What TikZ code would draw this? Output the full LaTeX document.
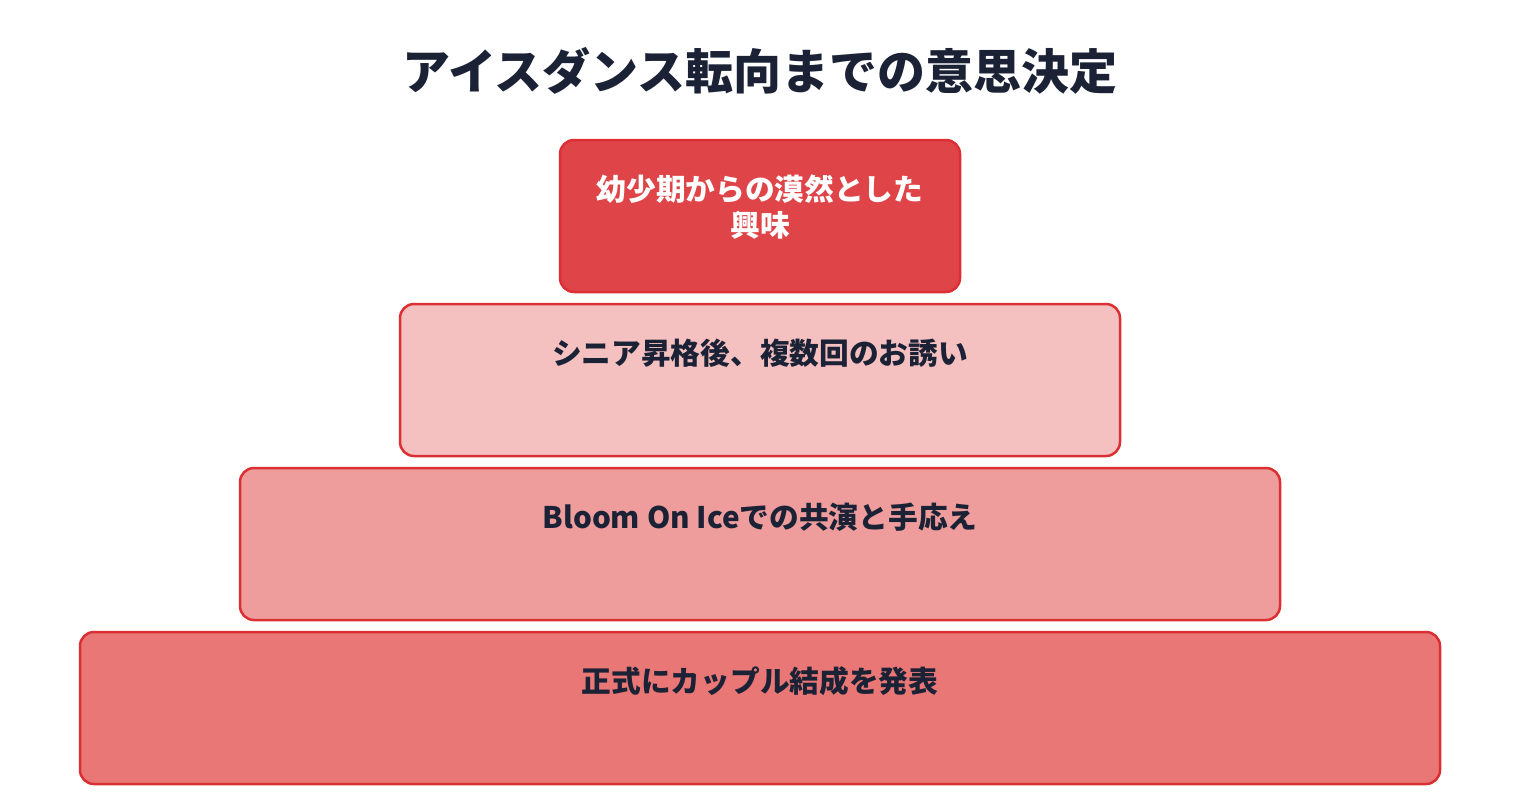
\documentclass[tikz,border=0pt]{standalone}
\usepackage{fontspec}
\setmainfont{Noto Sans CJK JP}
\usetikzlibrary{positioning}

\definecolor{edgered}{HTML}{DC2F33}
\definecolor{topfill}{HTML}{DF4548}
\definecolor{palefill}{HTML}{F4C0C0}
\definecolor{midfill}{HTML}{EE9D9C}
\definecolor{basefill}{HTML}{E87775}
\definecolor{inkdark}{HTML}{1C2236}

\tikzset{
	layerbox/.style={draw=edgered, line width=2.5pt, rounded corners=14pt, minimum height=152pt, inner sep=0pt},
	layertext/.style={font=\fontsize{29.7}{36}\selectfont\bfseries, text=inkdark, align=center, inner sep=0pt},
}

\begin{document}
\begin{tikzpicture}[x=1pt, y=-1pt]
		\useasboundingbox (0,0) rectangle (1520,796);
		
		\node[font=\fontsize{48}{56}\selectfont\bfseries, text=inkdark] (title) at (760,71) {アイスダンス転向までの意思決定};
		
		\node[layerbox, fill=topfill, minimum width=400pt] (interest) at (760,216) {};
		\node[layertext, text=white, below=36pt of interest.north] (interesttext) {幼少期からの漠然とした\\興味};
		
		\node[layerbox, fill=palefill, minimum width=720pt] (invite) at (760,380) {};
		\node[layertext, below=36pt of invite.north] (invitetext) {シニア昇格後、複数回のお誘い};
		
		\node[layerbox, fill=midfill, minimum width=1040pt] (bloom) at (760,544) {};
		\node[layertext, below=36pt of bloom.north] (bloomtext) {Bloom On Iceでの共演と手応え};
		
		\node[layerbox, fill=basefill, minimum width=1360pt] (announce) at (760,708) {};
		\node[layertext, below=36pt of announce.north] (announcetext) {正式にカップル結成を発表};
\end{tikzpicture}
\end{document}
